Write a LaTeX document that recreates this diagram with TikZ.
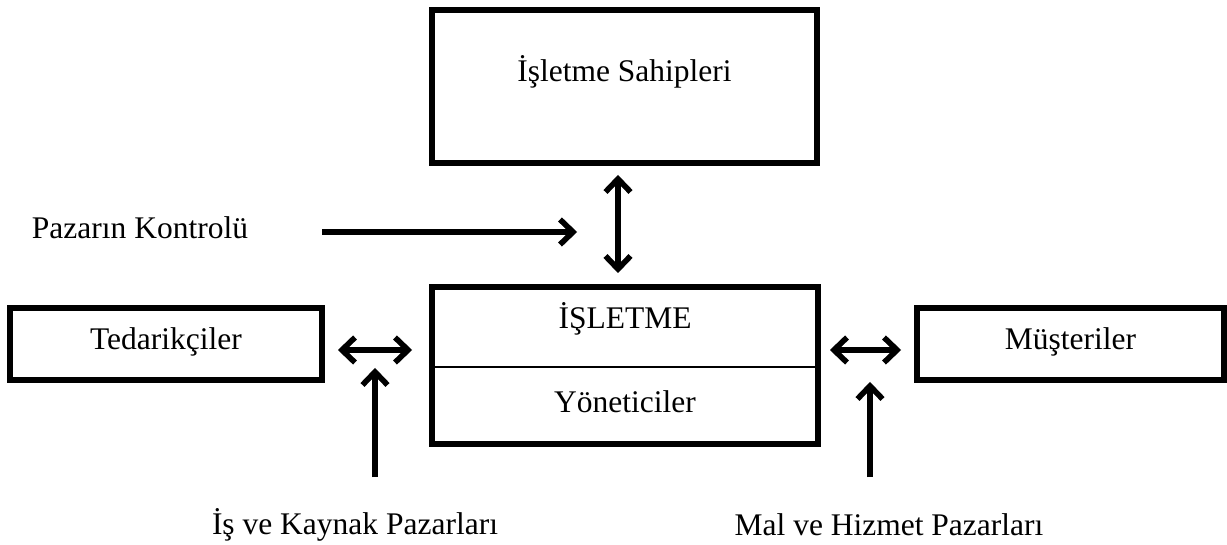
\documentclass[tikz,border=0pt]{standalone}
\usepackage{fontspec}
\setmainfont{Liberation Serif}
\usetikzlibrary{arrows.meta}
\tikzset{
  box/.style={draw=black, line width=5.5pt, rectangle, inner sep=0pt},
  lbl/.style={font=\fontsize{31.5}{36}\selectfont, inner sep=0pt, anchor=center},
  conn/.style={line width=5.5pt, black},
  shadow/.style={line width=5.5pt, draw=black!40},
  tip/.style={-{Straight Barb[length=13pt,width=25pt,line width=5.5pt]}},
  tips/.style={{Straight Barb[length=13pt,width=25pt,line width=5.5pt]}-{Straight Barb[length=13pt,width=25pt,line width=5.5pt]}}
}
\begin{document}
\begin{tikzpicture}[x=1pt,y=-1pt]
\useasboundingbox (0,0) rectangle (1227,545);
% boxes
\node[box, minimum width=385pt, minimum height=153pt] (owners) at (624.5,86.5) {};
\node[lbl] (ownerstxt) at (624.5,72) {İşletme Sahipleri};
\node[box, minimum width=386pt, minimum height=157pt] (firm) at (625,365.5) {};
\node[lbl] (firmtxt) at (625,319) {İŞLETME};
\node[lbl] (mgrtxt) at (625,402) {Yöneticiler};
\coordinate (divl) at (432,367);
\coordinate (divr) at (818,367);
\draw[line width=2pt] (divl) -- (divr);
\node[box, minimum width=312pt, minimum height=72pt] (sup) at (166,344) {};
\node[lbl] (suptxt) at (166,342) {Tedarikçiler};
\node[box, minimum width=307pt, minimum height=72pt] (cust) at (1070.5,344) {};
\node[lbl] (custtxt) at (1070.5,342) {Müşteriler};
% labels
\node[lbl] (ctrl) at (140,228) {Pazarın Kontrolü};
\node[lbl] (labmk) at (355,525) {İş ve Kaynak Pazarları};
\node[lbl] (goods) at (889,525) {Mal ve Hizmet Pazarları};
% connector end points
\coordinate (c1) at (322,232);
\coordinate (c2) at (577,232);
\coordinate (v1) at (618,175);
\coordinate (v2) at (618,273);
\coordinate (l1) at (338,350);
\coordinate (l2) at (412,350);
\coordinate (lu1) at (375,477);
\coordinate (lu2) at (375,368);
\coordinate (r1) at (830,350);
\coordinate (r2) at (901,350);
\coordinate (ru1) at (870,477);
\coordinate (ru2) at (870,382);
% shadows
\begin{scope}[shift={(2.5,2.5)}]
\draw[shadow, tip] (c1) -- (c2);
\draw[shadow, tips] (v1) -- (v2);
\draw[shadow, tips] (l1) -- (l2);
\draw[shadow, tip] (lu1) -- (lu2);
\draw[shadow, tips] (r1) -- (r2);
\draw[shadow, tip] (ru1) -- (ru2);
\end{scope}
% arrows
\draw[conn, tip] (c1) -- (c2);
\draw[conn, tips] (v1) -- (v2);
\draw[conn, tips] (l1) -- (l2);
\draw[conn, tip] (lu1) -- (lu2);
\draw[conn, tips] (r1) -- (r2);
\draw[conn, tip] (ru1) -- (ru2);
\end{tikzpicture}
\end{document}
